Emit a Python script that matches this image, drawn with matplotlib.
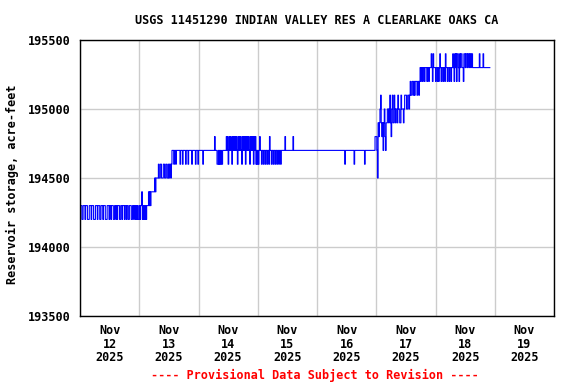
import numpy as np
import pandas as pd
import matplotlib
matplotlib.use('Agg')
import matplotlib.pyplot as plt

# gage readings every 15 min, hundreds of acre-feet above 194000 (hex digit)
days = ['2025-11-12', '2025-11-13', '2025-11-14', '2025-11-15',
        '2025-11-16', '2025-11-17', '2025-11-18']
nov12 = ("33322333" "23332223" "33233322" "23332333" "22333233" "32223332"
         "33233322" "33232333" "22332333" "23323322" "33322332" "33232322")
nov13 = ("32334232" "32323334" "34344444" "45455556" "55665556" "65566556"
         "56656777" "67767777" "77677767" "77767776" "77777677" "77767776")
nov14 = ("77777776" "77777777" "77777777" "77877766" "76767667" "77777878"
         "67878768" "78787876" "87878768" "78786878" "78768787" "86878676")
nov15 = ("76787767" "76776776" "77687767" "76776776" "77677677" "77778777"
         "77777777" "78777777" "77777777" "77777777" "77777777" "77777777")
nov16 = ("77777777" "77777777" "77777777" "77777777" "77777777" "77777677"
         "77777777" "77776777" "77777777" "77777677" "77777777" "77777788")
nov17 = ("875989AB" "98979A87" "99AA9AB9" "8AB99BA9" "AA9BAA99" "BAAA9ABB"
         "BAABBABC" "BBCCBCBC" "CCBCCBCD" "CDDCDDCD" "DDCDDCDD" "DEDCEDDD")
nov18 = ("CDDCDCDE" "DCDDCDDC" "EDDCDDCD" "DCDDEDCE" "DECEEDCE" "DEEDDCEE"
         "DEEDEEDE" "EDEEDDDD" "DDDDDDDE" "DDDDDEDD" "DDDDDDDDD")
levels = [nov12, nov13, nov14, nov15, nov16, nov17, nov18]

base = 194000
tick_days = ['2025-11-12', '2025-11-13', '2025-11-14', '2025-11-15',
             '2025-11-16', '2025-11-17', '2025-11-18', '2025-11-19']
yticks = [193500, 194000, 194500, 195000, 195500]

times = []
vals = []
for d, s in zip(days, levels):
    for i, c in enumerate(s):
        times.append(pd.Timestamp(d) + pd.Timedelta(minutes=15 * i))
        vals.append(base + 100 * int(c, 16))

mono = 'DejaVu Sans Mono'
fig = plt.figure(figsize=(5.76, 3.84), dpi=100)
ax = fig.add_axes([80 / 576, 1 - 316 / 384, 474 / 576, 276 / 384])

ax.step(times, vals, where='post', color='#0000ff', lw=0.8)

ax.set_xlim(pd.Timestamp('2025-11-12'), pd.Timestamp('2025-11-20'))
ax.set_ylim(193500, 195500)

# labels at noon, grid at midnight
noon = [pd.Timestamp(d) + pd.Timedelta(hours=12) for d in tick_days]
mid = [pd.Timestamp(d) for d in tick_days] + [pd.Timestamp('2025-11-20')]
ax.set_xticks(noon)
ax.set_xticklabels([pd.Timestamp(d).strftime('Nov\n%d\n%Y') for d in tick_days],
                   fontfamily=mono, fontweight='bold', fontsize=8.5, linespacing=1.05)
ax.set_xticks(mid, minor=True)
ax.set_yticks(yticks)
ax.set_yticklabels([str(v) for v in yticks], fontfamily=mono,
                   fontweight='bold', fontsize=8.5)
ax.tick_params(axis='both', which='both', length=0)
ax.tick_params(axis='x', pad=6)
ax.tick_params(axis='y', pad=7)
ax.grid(True, which='minor', axis='x', color='#cccccc', lw=1)
ax.grid(True, which='major', axis='y', color='#cccccc', lw=1)
ax.set_axisbelow(True)
for sp in ax.spines.values():
    sp.set_linewidth(1)
    sp.set_color('black')

fig.text(317 / 576, 1 - 20 / 384, 'USGS 11451290 INDIAN VALLEY RES A CLEARLAKE OAKS CA',
         ha='center', va='center', fontfamily=mono, fontweight='bold', fontsize=8.5)
fig.text(12 / 576, 1 - 184 / 384, 'Reservoir storage, acre-feet', rotation=90,
         ha='center', va='center', fontfamily=mono, fontweight='bold', fontsize=8.5)
fig.text(315 / 576, 1 - 375 / 384, '---- Provisional Data Subject to Revision ----',
         ha='center', va='center', color='red', fontfamily=mono,
         fontweight='bold', fontsize=8.5)

fig.savefig('out.png', dpi=100)
